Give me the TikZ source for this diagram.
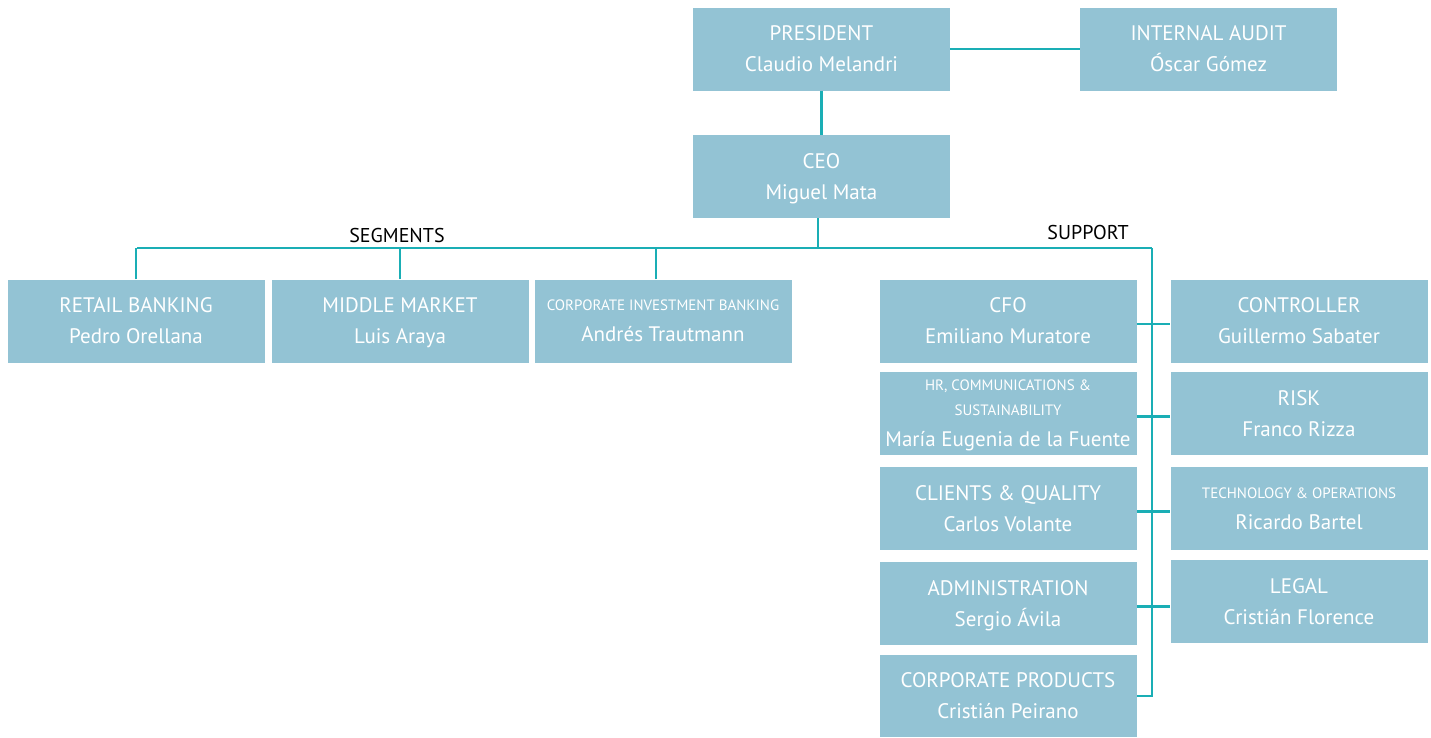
\documentclass[tikz,border=0pt]{standalone}
\usepackage{fontspec}
\setmainfont{PT Sans}
\newcommand\smalltitle[1]{{\fontsize{15}{20}\selectfont #1}}
\begin{document}
\begin{tikzpicture}[x=1pt,y=-1pt,
  box/.style={fill=boxblue, text=white, minimum width=257pt, minimum height=83pt, inner sep=0pt, text depth=0pt, align=center, font=\fontsize{21}{31}\selectfont},
  link/.style={draw=linkteal, line width=2.4pt}]
\definecolor{boxblue}{HTML}{93C3D4}
\definecolor{linkteal}{HTML}{1AAEB5}
\useasboundingbox (0,0) rectangle (1431,737);
\node[box] (pres) at (821.5,49){PRESIDENT\\Claudio Melandri};
\node[box] (audit) at (1208.5,49){INTERNAL AUDIT\\Óscar Gómez};
\node[box] (ceo) at (821.5,176.5){CEO\\Miguel Mata};
\node[box] (retail) at (136,321){RETAIL BANKING\\Pedro Orellana};
\node[box] (middle) at (400,321){MIDDLE MARKET\\Luis Araya};
\node[box] (cib) at (663,321){\smalltitle{CORPORATE INVESTMENT BANKING}\\Andrés Trautmann};
\node[box] (cfo) at (1008,321){CFO\\Emiliano Muratore};
\node[box] (hr) at (1008,413.5){\smalltitle{HR, COMMUNICATIONS \&}\\[-6pt]\smalltitle{SUSTAINABILITY}\\María Eugenia de la Fuente};
\node[box] (clients) at (1008,508.5){CLIENTS \& QUALITY\\Carlos Volante};
\node[box] (admin) at (1008,603.5){ADMINISTRATION\\Sergio Ávila};
\node[box, minimum height=82pt] (cprod) at (1008,696){CORPORATE PRODUCTS\\Cristián Peirano};
\node[box] (ctrl) at (1299,321){CONTROLLER\\Guillermo Sabater};
\node[box] (risk) at (1299,413.5){RISK\\Franco Rizza};
\node[box] (tech) at (1299,508.5){\smalltitle{TECHNOLOGY \& OPERATIONS}\\Ricardo Bartel};
\node[box] (legal) at (1299,601.5){LEGAL\\Cristián Florence};
\node[font=\fontsize{20}{24}\selectfont] (seg) at (397,235){SEGMENTS};
\node[font=\fontsize{20}{24}\selectfont] (sup) at (1088,232){SUPPORT};
\coordinate (busL) at (137,248);
\coordinate (busR) at (1152,248);
\draw[link] (pres) -- (audit);
\draw[link] (pres) -- (ceo);
\draw[link] ([xshift=-3.5pt]ceo.south) -- ([xshift=-3.5pt]ceo.south |- busL);
\draw[link] (busL) -- (busR);
\draw[link] (retail.north) -- (retail.north |- busL);
\draw[link] (middle.north) -- (middle.north |- busL);
\draw[link] ([xshift=-7pt]cib.north) -- ([xshift=-7pt]cib.north |- busL);
\draw[link] (busR) -- (busR |- cprod.east) -- (cprod.east);
\foreach \a/\b in {cfo/ctrl,hr/risk,clients/tech,admin/legal}
  \draw[link] ([yshift=-3pt]\a.east) -- ([yshift=-3pt]\a.east -| ctrl.west);
\end{tikzpicture}
\end{document}
